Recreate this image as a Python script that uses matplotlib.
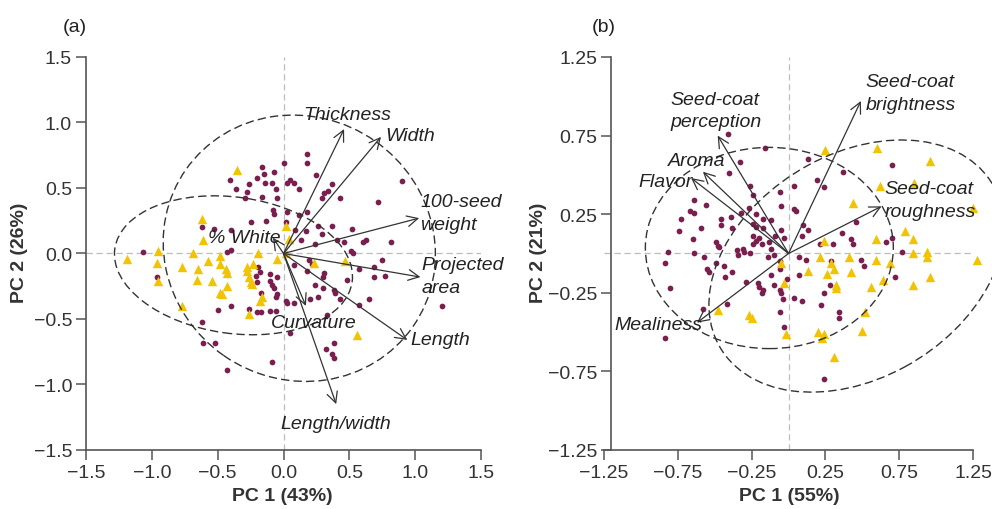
import matplotlib
matplotlib.use("Agg")
import matplotlib.pyplot as plt
from matplotlib.patches import Ellipse
from matplotlib.ticker import FixedLocator, FuncFormatter

plt.rcParams["font.family"] = ["Liberation Sans Narrow", "Liberation Sans", "DejaVu Sans"]

PURPLE = "#7a1d4f"
YELLOW = "#f2c300"
DARK = "#333333"

# ---------------- panel (a): seed morphology ----------------
a_purple_x = [0.18, 0.00, 0.18, -0.16, -0.15, -0.07, -0.20, -0.41, 0.25, -0.14,
              -0.09, 0.03, 0.05, 0.08, -0.26, 0.37, -0.36, -0.06, 0.12, -0.28,
              0.31, 0.34, -0.16, -0.05, -0.29, 0.29, 0.43, 0.72, 0.90, -0.08,
              -0.07, 0.03, 0.18, 0.12, -0.13, -0.25, 0.02, 0.26, 0.37, 0.52,
              -0.53, -0.62, 0.09, 0.29, 0.41, 0.46, 0.60, 0.63, 0.82, 0.51,
              0.53, 0.24, 0.13, -0.40, -0.43, -1.07, 0.08, 0.19, 0.75, -0.19,
              -0.18, 0.18, 0.31, 0.30, 0.69, 0.57, -0.10, -0.05, -0.21, 0.48,
              0.24, 0.30, -0.09, -0.07, 0.39, 0.69, 0.77, -0.17, 0.26, -0.06,
              0.43, 0.02, 0.03, 0.65, 0.08, -0.40, 0.57, -0.50, -0.26, -0.20,
              -0.17, -0.10, -0.06, -0.62, 0.05, -0.61, -0.52, 0.38, 0.32, 0.37,
              0.38, -0.09, -0.43, -0.96, 1.20, 0.33, 0.20, 0.38, 0.22, 0.17,
              -0.40, -0.05, -0.20, -0.10]
a_purple_y = [0.76, 0.69, 0.69, 0.66, 0.61, 0.62, 0.58, 0.56, 0.60, 0.54,
              0.54, 0.54, 0.56, 0.54, 0.53, 0.53, 0.49, 0.49, 0.49, 0.47,
              0.46, 0.48, 0.43, 0.42, 0.42, 0.42, 0.42, 0.39, 0.55, 0.33,
              0.30, 0.32, 0.32, 0.29, 0.25, 0.24, 0.24, 0.21, 0.21, 0.19,
              0.19, 0.20, 0.18, 0.15, 0.10, 0.09, 0.09, 0.10, 0.09, 0.02,
              0.00, 0.07, 0.10, 0.03, 0.01, 0.01, -0.09, -0.05, -0.05, -0.10,
              -0.14, -0.13, -0.15, -0.18, -0.10, -0.12, -0.16, -0.18, -0.17, -0.20,
              -0.24, -0.26, -0.24, -0.26, -0.30, -0.18, -0.17, -0.30, -0.33, -0.33,
              -0.35, -0.36, -0.38, -0.35, -0.38, -0.40, -0.39, -0.43, -0.42, -0.45,
              -0.45, -0.44, -0.44, -0.52, -0.61, -0.68, -0.68, -0.68, -0.73, -0.77,
              -0.80, -0.83, -0.89, -0.18, -0.40, -0.47, -0.35, -0.28, -0.08, 0.17,
              0.18, -0.31, -0.22, -0.21]

a_yellow_x = [-0.35, -0.62, -0.61, -0.95, -1.19, -0.96, -0.69, -0.77, -0.57, -0.48,
              -0.48, -0.44, -0.43, -0.28, -0.28, -0.26, -0.25, -0.24, -0.23, -0.19,
              -0.05, 0.02, 0.02, 0.04, 0.23, 0.47, 0.56, -0.66, -0.54, -0.43,
              -0.48, -0.47, -0.16, -0.18, -0.26, -0.77, -0.95, -0.65]
a_yellow_y = [0.64, 0.26, 0.10, 0.02, -0.04, -0.07, 0.00, -0.10, -0.06, -0.02,
              -0.08, -0.12, -0.15, -0.10, -0.13, -0.18, -0.22, -0.23, -0.08, 0.00,
              -0.04, 0.00, 0.21, 0.11, -0.07, -0.06, -0.62, -0.20, -0.21, -0.25,
              -0.30, -0.31, -0.33, -0.36, -0.46, -0.40, -0.21, -0.12]

a_vars = ["Thickness", "Width", "100-seed\nweight", "Projected\narea", "Length",
          "Length/width", "Curvature", "% White"]
a_load_x = [0.46, 0.74, 1.03, 1.04, 0.94, 0.40, 0.17, -0.08]
a_load_y = [0.95, 0.89, 0.27, -0.18, -0.66, -1.15, -0.40, 0.12]
a_lab_x = [0.48, 0.96, 1.04, 1.05, 0.96, 0.40, 0.23, -0.30]
a_lab_y = [1.06, 0.90, 0.31, -0.17, -0.66, -1.30, -0.53, 0.12]
a_lab_ha = ["center", "center", "left", "left", "left", "center", "center", "center"]

# ellipses: centre x, centre y, width, height, angle
a_ell_purple = (0.12, 0.04, 2.10, 2.00, -35)
a_ell_yellow = (-0.38, -0.09, 1.82, 1.04, -8)

# ---------------- panel (b): sensory attributes ----------------
b_purple_x = [-0.41, -0.16, -0.33, -0.40, -0.26, 0.13, 0.19, 0.04, 0.37, 0.70,
              0.24, -0.06, -0.64, -0.56, -0.67, -0.64, -0.24, -0.05, 0.04, 0.05,
              -0.32, -0.27, -0.73, -0.46, -0.39, -0.22, -0.17, -0.46, -0.59, -0.74,
              -0.38, -0.12, -0.24, -0.22, -0.17, -0.24, -0.22, -0.20, -0.18, -0.24,
              -0.05, -0.03, -0.13, -0.65, -0.49, -0.48, -0.47, -0.12, -0.31, -0.30,
              -0.82, -0.64, -0.26, -0.57, -0.84, -0.14, -0.49, -0.44, -0.55, -0.54,
              -0.38, -0.29, -0.80, -0.21, -0.20, -0.17, -0.18, -0.10, -0.06, -0.05,
              -0.01, -0.42, -0.58, -0.04, 0.07, 0.09, -0.06, -0.03, 0.46, 0.10,
              0.13, 0.09, 0.36, 0.42, 0.44, 0.30, 0.21, 0.70, 0.66, 0.07,
              0.12, 0.49, 0.51, 0.77, 0.72, 0.29, 0.24, 0.22, 0.34, 0.34,
              0.04, 0.24, -0.09, -0.10, -0.06, -0.06, -0.12, -0.34, -0.35, -0.43,
              -0.84, 0.28]
b_purple_y = [0.76, 0.67, 0.58, 0.51, 0.43, 0.60, 0.47, 0.43, 0.52, 0.56,
              0.42, 0.39, 0.34, 0.31, 0.27, 0.26, 0.37, 0.30, 0.28, 0.27,
              0.26, 0.29, 0.22, 0.22, 0.23, 0.25, 0.22, 0.18, 0.16, 0.14,
              0.16, 0.21, 0.19, 0.17, 0.16, 0.11, 0.08, 0.10, 0.06, 0.06,
              0.15, 0.10, 0.07, 0.09, 0.07, 0.05, 0.04, 0.03, 0.03, 0.01,
              0.01, 0.00, 0.00, -0.02, -0.06, -0.02, -0.06, -0.08, -0.10, -0.12,
              -0.12, -0.18, -0.22, -0.19, -0.21, -0.23, -0.25, -0.20, -0.23, -0.25,
              -0.16, -0.32, -0.35, -0.29, -0.14, -0.30, -0.37, -0.47, 0.20, 0.18,
              0.15, 0.11, 0.13, 0.09, 0.06, 0.06, 0.06, 0.10, 0.07, -0.02,
              -0.04, -0.04, -0.08, 0.01, -0.15, -0.05, -0.25, -0.33, -0.37, -0.41,
              -0.28, -0.80, 0.11, -0.01, -0.05, -0.10, -0.14, -0.01, 0.02, -0.15,
              -0.54, -0.20]

b_yellow_x = [0.25, 0.60, 0.96, 0.62, 0.85, 0.44, 1.25, 0.79, 0.84, 0.59,
              0.24, 0.94, 0.94, 0.84, 0.21, 0.41, 0.59, 0.69, 1.28, 0.29,
              0.31, 0.13, 0.26, 0.42, -0.05, 0.32, 0.32, 0.56, 0.84, 0.96,
              0.64, -0.03, 0.52, 0.20, 0.24, 0.23, 0.50, -0.02, 0.31, -0.48,
              -0.27, -0.25]
b_yellow_y = [0.66, 0.67, 0.59, 0.43, 0.45, 0.32, 0.29, 0.14, 0.09, 0.09,
              0.08, 0.01, -0.02, 0.00, -0.02, -0.02, -0.04, -0.06, -0.04, -0.06,
              -0.10, -0.11, -0.13, -0.12, -0.06, -0.20, -0.22, -0.21, -0.20, -0.15,
              -0.17, -0.19, -0.37, -0.50, -0.51, -0.54, -0.49, -0.51, -0.66, -0.36,
              -0.39, -0.41]

b_vars = ["Seed-coat\nperception", "Seed-coat\nbrightness", "Aroma", "Flavor",
          "Seed-coat\nroughness", "Mealiness"]
b_load_x = [-0.48, 0.49, -0.58, -0.66, 0.63, -0.62]
b_load_y = [0.75, 0.97, 0.52, 0.48, 0.30, -0.44]
b_lab_x = [-0.80, 0.52, -0.62, -0.83, 0.65, -0.88]
b_lab_y = [0.91, 1.02, 0.59, 0.46, 0.34, -0.45]
b_lab_ha = ["left", "left", "center", "center", "left", "center"]

b_ell_purple = (-0.13, 0.035, 1.68, 1.28, 0)
b_ell_yellow = (0.46, -0.08, 2.12, 1.44, 27)


def draw_panel(ax, lim, ticks, fmt, px, py, yx, yy, ells, names, lx, ly, tx, ty, has):
    ax.set_xlim(-lim, lim)
    ax.set_ylim(-lim, lim)
    ax.axhline(0, color="#bdbdbd", lw=0.9, ls=(0, (5, 3)), zorder=1)
    ax.axvline(0, color="#bdbdbd", lw=0.9, ls=(0, (5, 3)), zorder=1)

    ax.scatter(px, py, s=17, color=PURPLE, marker="o", linewidths=0, zorder=2)
    ax.scatter(yx, yy, s=46, color=YELLOW, marker="^", linewidths=0, zorder=2,
               clip_on=False)

    for cx, cy, w, h, ang in ells:
        ax.add_patch(Ellipse((cx, cy), w, h, angle=ang, fill=False, ec=DARK,
                             lw=1.0, ls=(0, (6, 3)), zorder=3, clip_on=False))

    for i, name in enumerate(names):
        ax.annotate("", xy=(lx[i], ly[i]), xytext=(0, 0),
                    arrowprops=dict(arrowstyle="->,head_length=0.7,head_width=0.35",
                                    color=DARK, lw=0.9, shrinkA=0, shrinkB=0,
                                    mutation_scale=11),
                    zorder=4)
        ax.text(tx[i], ty[i], name, ha=has[i], va="center", fontsize=14,
                style="italic", color="#222222", linespacing=1.45, zorder=5)

    ax.xaxis.set_major_locator(FixedLocator(ticks))
    ax.yaxis.set_major_locator(FixedLocator(ticks))
    ax.xaxis.set_major_formatter(FuncFormatter(lambda v, p: fmt.format(v).replace("-", "\u2212")))
    ax.yaxis.set_major_formatter(FuncFormatter(lambda v, p: fmt.format(v).replace("-", "\u2212")))
    for s in ["top", "right"]:
        ax.spines[s].set_visible(False)
    for s in ["left", "bottom"]:
        ax.spines[s].set_color("#555555")
        ax.spines[s].set_linewidth(1.2)
    ax.tick_params(direction="out", length=7, width=1.1, color="#555555",
                   labelsize=14, labelcolor="#333333", pad=3)


fig = plt.figure(figsize=(9.92, 5.10), dpi=100)
ax1 = fig.add_axes([0.0867, 0.1157, 0.3982, 0.7706])
ax2 = fig.add_axes([0.6089, 0.1157, 0.3720, 0.7706])

draw_panel(ax1, 1.5, [-1.5, -1.0, -0.5, 0.0, 0.5, 1.0, 1.5], "{:.1f}",
           a_purple_x, a_purple_y, a_yellow_x, a_yellow_y,
           [a_ell_purple, a_ell_yellow], a_vars, a_load_x, a_load_y,
           a_lab_x, a_lab_y, a_lab_ha)
draw_panel(ax2, 1.25, [-1.25, -0.75, -0.25, 0.25, 0.75, 1.25], "{:.2f}",
           b_purple_x, b_purple_y, b_yellow_x, b_yellow_y,
           [b_ell_purple, b_ell_yellow], b_vars, b_load_x, b_load_y,
           b_lab_x, b_lab_y, b_lab_ha)
# the y axis of panel (b) sits slightly inside the x range
ax2.spines["left"].set_position(("data", -1.2))

fig.text(0.0756, 0.947, "(a)", ha="center", va="center", fontsize=14, color="#222222")
fig.text(0.609, 0.947, "(b)", ha="center", va="center", fontsize=14, color="#222222")
fig.text(0.285, 0.026, "PC 1 (43%)", ha="center", va="center", fontsize=14,
         fontweight="bold", color="#333333")
fig.text(0.796, 0.026, "PC 1 (55%)", ha="center", va="center", fontsize=14,
         fontweight="bold", color="#333333")
fig.text(0.020, 0.504, "PC 2 (26%)", ha="center", va="center", rotation=90,
         fontsize=14, fontweight="bold", color="#333333")
fig.text(0.543, 0.504, "PC 2 (21%)", ha="center", va="center", rotation=90,
         fontsize=14, fontweight="bold", color="#333333")

fig.savefig("out.png", dpi=100)
